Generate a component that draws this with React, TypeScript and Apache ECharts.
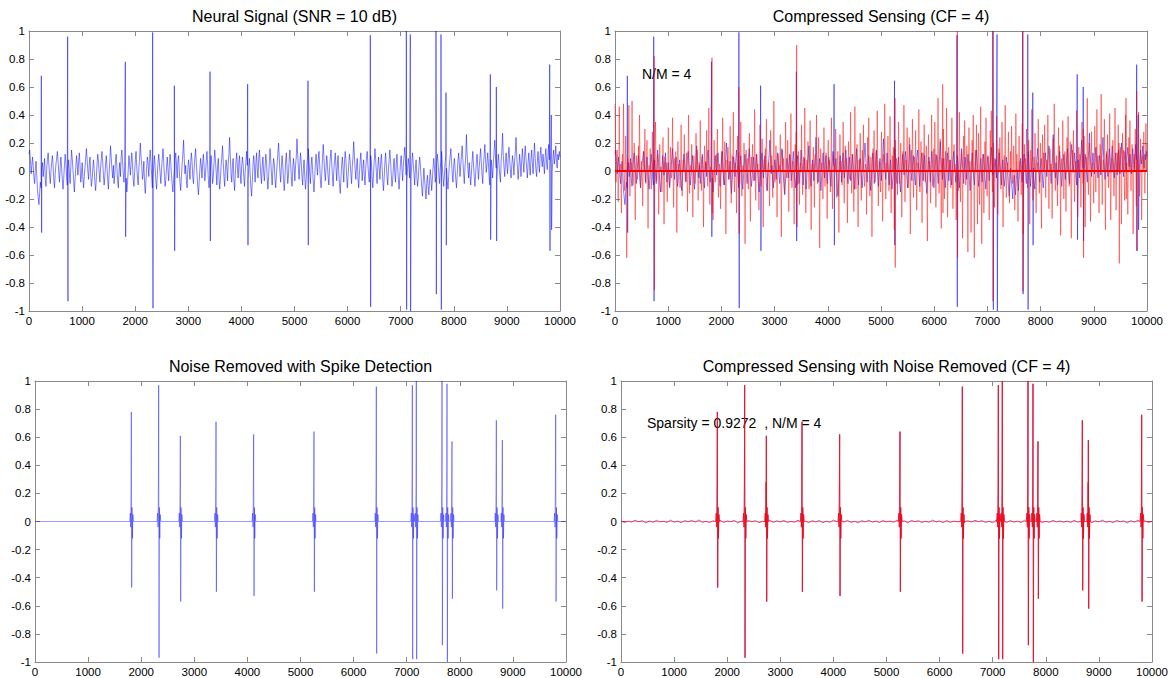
import React, { useEffect, useRef } from 'react';
import * as echarts from 'echarts';

const FONT = '"Liberation Sans", Arial, Helvetica, sans-serif';
const X_MAX = 10000;
const X_INTERVAL = 1000;
const Y_MIN = -1;
const Y_MAX = 1;
const Y_INTERVAL = 0.2;

const panelTitles = [
  'Neural Signal (SNR = 10 dB)',
  'Compressed Sensing (CF = 4)',
  'Noise Removed with Spike Detection',
  'Compressed Sensing with Noise Removed (CF = 4)',
];
const noteTopRight = 'N/M = 4';
const noteBottomRight = 'Sparsity = 0.9272  , N/M = 4';

// Background noise of the recorded signal (hundredths), evenly spread over 0..10000
const blueNoise = [
  12, 15, 8, -2, 4, 10, 3, -5, -9, 2, 7, -3, -14, -19, -24, -16, -8, -12, 1, 6, -4, 3, 9, -6, -11,
  2, 8, 13, 5, -3, -9, 0, 6, 11, 4, -7, -12, -2, 5, 9, 14, 7, -1, -8, 3, 10, 2, -6, -13, -5,
  4, 12, 6, -4, -10, 1, 8, -2, -9, 3, 15, 9, 1, -7, -15, -6, 2, 11, 5, -3, 7, 13, 4, -8, -3,
  6, -5, -12, -4, 3, 9, 16, 8, 0, -6, 4, 10, -2, -11, -7, 2, 8, 1, -9, -14, -5, 5, 12, 7, -1,
  -8, 2, 9, 14, 6, -3, -10, -4, 5, 11, 3, -6, -13, -2, 7, 18, 10, 1, -5, 4, -9, -3, 8, 12, 2,
  -7, -12, 0, 6, -4, 10, 15, 7, -2, -8, 3, 9, -5, -15, -8, 1, 11, 4, -3, 6, 13, 5, -6, -11, -1,
  8, 14, 3, -5, -10, 2, 9, 20, 11, 4, -6, -2, 7, -9, -16, -7, 3, 10, 5, -4, 8, 15, 6, -3, -12,
  -5, 4, 11, 2, -8, -13, -3, 6, 12, 5, -2, -9, 1, 9, 16, 7, -4, -11, -6, 3, 10, 1, -7, 4, 12,
  6, -3, -10, -15, -6, 2, 8, 13, 4, -5, 7, 11, 0, -8, -14, -4, 5, 12, 22, 9, -2, 4, -7, -12, 1,
  8, 3, -6, 5, 13, 7, -4, -9, 2, 10, 16, 6, -3, -11, -17, -8, 1, 9, 4, -5, 6, 12, 3, -7, -2,
  7, 14, 5, -6, -12, -3, 4, 11, 2, -9, -4, 6, 15, 8, -1, -10, 3, 9, -5, -13, -6, 4, 10, 18, 6,
  -4, -11, 1, 8, 3, -7, 5, 12, 24, 10, -2, -8, 4, 9, -6, -14, -3, 7, 13, 2, -5, 6, 11, -2, -9,
  3, 10, 5, -4, -11, 0, 7, 14, 4, -6, 2, 9, -3, -12, -18, -7, 5, 11, 3, -8, 6, 13, 1, -5, 8,
  15, 6, -3, -9, 4, 10, -1, -7, 3, 12, 7, -5, -13, -4, 6, 16, 8, -2, -10, 1, 9, 5, -6, -12, -3,
  5, 12, 20, 9, -1, -8, 3, 11, 4, -6, -14, -5, 7, 13, 2, -9, -3, 8, 15, 6, -4, -11, 0, 9, 3,
  -7, 4, 10, 23, 12, 2, -6, 5, 13, 6, -3, -10, 1, 8, -4, -13, -6, 3, 11, 16, 7, -2, -9, 4, 10,
  1, -8, -15, -5, 6, 12, 4, -3, 8, 14, 5, -6, -12, -2, 9, 19, 10, -1, -7, 3, 11, 4, -5, -10, 2,
  9, 15, 6, -4, -11, 1, 7, 13, 3, -7, 5, 11, -2, -9, -16, -6, 4, 10, 2, -8, 6, 14, 8, -3, -12,
  -4, 5, 12, 7, -2, -9, 3, 10, 21, 11, 1, -6, 4, 9, -5, -12, -3, 6, 13, 4, -7, 2, 8, -4, -10,
  2, 9, 14, 5, -3, -8, 4, 11, 6, -5, -12, -2, 7, 16, 8, -1, -9, 3, 10, 2, -6, 5, 12, 4, -7,
  -14, -5, 6, 13, 4, -4, -10, 1, 8, 15, 7, -3, -11, -6, 3, 9, -2, -8, 5, 12, 3, -6, -13, -4, 6,
  11, 2, -7, 4, 10, 17, 8, -3, -9, 2, 9, 3, -5, -12, -4, 6, 13, 5, -2, -10, 1, 8, -3, -11, -6,
  3, 10, 5, -4, -12, -18, -8, 2, -6, -13, -20, -9, -3, -11, -17, -7, 1, -5, -14, -6, 3, 9, 2, -8, -4,
  5, 12, 6, -2, -9, 1, 8, 14, 4, -5, -11, -3, 6, 11, 2, -7, -13, -4, 5, 10, 16, 7, -2, -8, 3,
  9, 2, -6, -12, -3, 7, 13, 5, -4, 4, 11, 18, 8, -1, -9, 3, 10, 26, 12, 2, -5, 6, -3, -10, -2,
  7, 14, 5, -4, -11, -2, 6, 12, 3, -6, 2, 9, 16, 7, -3, -9, 4, 11, 19, 8, -1, 5, 13, 6, -4,
  -10, 1, 8, 3, -5, 6, 14, 22, 10, 2, -6, 4, 12, 5, -3, -8, 7, 15, 27, 11, 3, -4, 6, 13, 5,
  -2, 9, 17, 8, 1, -5, 4, 11, 6, -3, 7, 14, 24, 10, 2, -6, 3, 12, 5, -4, 8, 16, 7, -1, 10,
  18, 9, 2, -5, 6, 13, 4, -3, 8, 15, 6, -2, 10, 20, 9, 1, -4, 7, 14, 5, -1, 11, 17, 8, 3,
  12, 6, -2, 9, 16, 7, 1, 11, 19, 8, 3, 13, 6, -1, 9, 15, 5, 10, 18, 7, 2, 12, 8, 14, 10,
];

// Spikes of the recorded signal: position, peak, trough
const spikePos = [232, 728, 1814, 2329, 2737, 3409, 4118, 5254, 6428, 7106, 7181, 7665, 7759, 7853, 8688, 8801, 9806, 9836];
const spikeUp = [0.68, 0.96, 0.78, 0.99, 0.61, 0.71, 0.62, 0.645, 0.97, 1.0, 0.975, 1.0, 0.975, 0.56, 0.69, 0.6, 0.76, 0.4];
const spikeDown = [-0.44, -0.93, -0.47, -0.98, -0.57, -0.5, -0.53, -0.53, -0.97, -0.99, -1.0, -0.88, -0.99, -0.53, -0.49, -0.5, -0.57, -0.42];

// Compressed-sensing reconstruction (hundredths): sparse stems, evenly spread over 0..10000
const redNoise = [
  48, -8, 15, -22, 46, 5, -30, 12, 48, -14, 25, -62, 9, 47, -18, 6, 50, -10, 20, -35, 11, -6, 18, 40, -12,
  7, -25, 14, 30, -9, 22, -41, 4, 16, -13, 28, 8, -20, 35, -7, 12, -31, 19, 3, -15, 24, -38, 10, 6, -22,
  31, -11, 17, -5, 38, -26, 9, 14, -44, 21, 5, -12, 33, -18, 8, 26, -7, 13, -29, 40, -16, 4, 19, -33, 11,
  -9, 27, 15, -21, 6, 36, -14, 10, -40, 18, 7, 29, -11, 45, -24, 3, 16, -35, 22, -8, 12, 30, -19, 5, -27,
  14, 38, -10, 21, -45, 8, 17, -6, 32, -23, 11, 42, -15, 6, -30, 25, 13, -9, 35, -18, 4, 20, -52, 15, 9,
  -13, 27, -36, 10, 19, -7, 44, -21, 12, 5, -28, 33, -11, 23, -40, 8, 16, 37, -14, 6, -25, 29, 11, -19, 50,
  -8, 18, -33, 12, 4, 26, -47, 15, 9, -16, 35, -5, 22, -29, 11, 41, -12, 7, -38, 19, 28, -10, 14, -24, 6,
  33, -17, 10, 45, -30, 8, 21, -13, 36, -42, 5, 17, -26, 12, 40, -9, 24, -55, 16, 6, -20, 31, -11, 13, -34,
  22, 8, -15, 38, -27, 11, 4, 30, -19, 14, -44, 26, 7, -10, 35, -23, 18, 9, -37, 21, -6, 42, -16, 12, -29,
  46, -13, 19, -40, 8, 27, -21, 15, 33, -11, 5, -31, 24, 38, -18, 10, -47, 16, 29, -8, 14, 43, -25, 7, -15,
  28, -36, 12, 48, -20, 6, 25, -14, 39, -30, 11, 17, -42, 22, 9, -17, 35, -9, 20, -33, 14, 47, -22, 8, 31,
  -12, 24, -45, 15, 37, -19, 10, 29, -28, 6, 44, -15, 21, -37, 13, 33, -8, 18, -50, 26, 7, -23, 40, -11, 16,
  35, -26, 11, 52, -16, 23, -41, 9, 30, -20, 14, 45, -33, 17, 8, -12, 38, -27, 19, 5, -35, 28, -14, 42, -22,
  13, -48, 25, 36, -10, 18, -58, 31, 7, -44, 22, 40, -62, 15, 33, -38, 27, -24, 46, -52, 12, -30, 21, 38, -18,
  10, -35, 29, 43, -15, 20, -26, 8, 39, -31, 16, 24, -13, 35, -40, 11, 47, -19, 6, 28, -23, 14, 32, -9, 18,
  -28, 41, 12, -36, 25, 7, -17, 34, -45, 19, 9, 30, -12, 22, -38, 15, 44, -21, 10, 27, -30, 6, 37, -16, 20,
  -41, 26, 13, 33, -19, 8, 40, -27, 16, 5, -34, 23, 48, -14, 11, -25, 31, 18, -46, 9, 36, -20, 14, -29, 24,
  39, -11, 21, -48, 15, 29, -22, 7, 43, -33, 17, 12, -26, 35, -9, 25, -40, 10, 52, -17, 20, -36, 28, 6, -23,
  32, -15, 44, 11, -30, 19, 55, -24, 8, 37, -42, 14, 26, -12, 41, -35, 9, 22, -18, 45, -28, 13, 33, -10, 17,
  -38, 27, 15, -21, 40, 6, -31, 24, 36, -14, 19, -45, 12, 30, -25, 8, 42, -18, 23, -35, 11, 28, -16, 34, 20,
];
const redSpikePos = [737, 1823, 2329, 3415, 5263, 6160, 6435, 7100, 7663, 8803, 9474, 9605, 9806];
const redSpikeUp = [0.82, 0.81, 0.6, 0.9, 0.52, 0.62, 1.0, 1.0, 1.0, 0.3, 0.2, 0.52, 0.57];
const redSpikeDown = [-0.85, -0.3, -0.45, -0.4, -0.69, -0.3, -0.62, -0.93, -0.86, -0.62, -0.66, -0.2, -0.57];
// samples of the reconstruction that sit at zero, from start to end
const redZeroRun = [0, 10000];

// Detected spikes after noise removal
const cleanSpikePos = [1814, 2329, 2737, 3409, 4118, 5254, 6428, 7106, 7181, 7665, 7759, 7853, 8688, 8801, 9806];
const cleanSpikeUp = [0.78, 0.97, 0.61, 0.71, 0.62, 0.64, 0.96, 0.97, 1.0, 1.0, 0.98, 0.57, 0.72, 0.58, 0.76];
const cleanSpikeDown = [-0.47, -0.97, -0.57, -0.5, -0.53, -0.5, -0.94, -0.98, -0.98, -0.88, -1.0, -0.55, -0.49, -0.62, -0.57];
// small waveform around each detected spike: offset from spike, value
const wiggleOffsets = [-30, -20, -12, -5, 14, 21, 30, 40];
const wiggleValues = [0, 0.06, -0.04, 0.28, 0.1, -0.12, 0.05, 0];

// Residual noise of the denoised CS reconstruction (thousandths)
const cleanRedNoise = [
  5, -8, 3, -4, 9, -2, 6, -10, 4, -6, 8, -3, 2, -7, 10, -5, 3, -9, 6, -1, 7, -4, 11, -6, 2,
  -8, 5, -3, 9, -7, 4, -2, 8, -10, 3, -5, 7, -1, 6, -9, 2, -4, 10, -6, 5, -3, 8, -7, 1, -5,
  9, -2, 4, -8, 6, -3, 7, -9, 3, -6, 10, -1, 5, -4, 8, -7, 2, -10, 6, -3, 9, -5, 4, -8, 7,
  -2, 3, -6, 11, -4, 5, -9, 8, -1, 6, -7, 2, -5, 10, -3, 4, -8, 7, -6, 3, -2, 9, -10, 5, -4,
  8, -1, 6, -7, 2, -9, 11, -3, 4, -6, 7, -5, 3, -8, 9, -2, 5, -4, 10, -7, 1, -6, 8, -3, 4, -5,
  3, -7, 9, -4, 6, -2, 8, -9, 5, -3, 10, -6, 2, -8, 7, -1, 4, -10, 6, -5, 9, -3, 5, -7, 2,
];

type Pt = [number, number];

function buildNoisy(noise: number[], scale: number, pos: number[], up: number[], down: number[]): Pt[] {
  const step = X_MAX / (noise.length - 1);
  const pts: Pt[] = noise.map((v, i) => [i * step, v * scale]);
  pos.forEach((p, k) => {
    pts.push([p, up[k]]);
    pts.push([p + 6, down[k]]);
  });
  pts.sort((a, b) => a[0] - b[0]);
  return pts;
}

function buildSparse(noise: number[], scale: number, pos: number[], up: number[], down: number[]): Pt[] {
  const step = X_MAX / (noise.length - 1);
  const pts: Pt[] = [];
  noise.forEach((v, i) => {
    pts.push([i * step, v * scale]);
    if (i < noise.length - 1) pts.push([i * step + step / 2, 0]);
  });
  pos.forEach((p, k) => {
    pts.push([p - 3, 0]);
    pts.push([p, up[k]]);
    pts.push([p + 5, down[k]]);
    pts.push([p + 9, 0]);
  });
  pts.sort((a, b) => a[0] - b[0]);
  return pts;
}

function buildClean(noise: number[] | null, scale: number, pos: number[], up: number[], down: number[]): Pt[] {
  const pts: Pt[] = [];
  if (noise) {
    const step = X_MAX / (noise.length - 1);
    noise.forEach((v, i) => pts.push([i * step, v * scale]));
  } else {
    pts.push([0, 0]);
    pts.push([X_MAX, 0]);
  }
  pos.forEach((p, k) => {
    wiggleOffsets.forEach((o, j) => pts.push([p + o, wiggleValues[j]]));
    pts.push([p, up[k]]);
    pts.push([p + 7, down[k]]);
  });
  pts.sort((a, b) => a[0] - b[0]);
  return pts;
}

const grids = [
  { left: 29, top: 31, width: 531, height: 280 },
  { left: 615, top: 31, width: 532, height: 280 },
  { left: 35, top: 381, width: 531, height: 281 },
  { left: 621, top: 381, width: 531, height: 281 },
];

const AXIS_COLOR = '#8a8a8a';

function buildAxes() {
  const xAxis: any[] = [];
  const yAxis: any[] = [];
  grids.forEach((_, k) => {
    const base = {
      gridIndex: k,
      type: 'value',
      splitLine: { show: false },
      axisLine: { show: true, onZero: false, lineStyle: { color: AXIS_COLOR, width: 1 } },
      axisTick: { show: true, inside: true, length: 5, lineStyle: { color: AXIS_COLOR, width: 1 } },
    };
    const label = { color: '#000', fontSize: 11.5, fontFamily: FONT, margin: 4, showMinLabel: true, showMaxLabel: true };
    xAxis.push({
      ...base, position: 'bottom', min: 0, max: X_MAX, interval: X_INTERVAL,
      axisLabel: { ...label, formatter: (v: number) => String(Math.round(v)) },
    });
    xAxis.push({ ...base, position: 'top', min: 0, max: X_MAX, interval: X_INTERVAL, axisLabel: { show: false } });
    yAxis.push({
      ...base, position: 'left', min: Y_MIN, max: Y_MAX, interval: Y_INTERVAL,
      axisLabel: { ...label, formatter: (v: number) => String(Math.round(v * 10) / 10) },
    });
    yAxis.push({ ...base, position: 'right', min: Y_MIN, max: Y_MAX, interval: Y_INTERVAL, axisLabel: { show: false } });
  });
  return { xAxis, yAxis };
}

function lineSeries(k: number, data: Pt[], color: string, width: number, opacity = 1) {
  return {
    type: 'line',
    xAxisIndex: k * 2,
    yAxisIndex: k * 2,
    data,
    symbol: 'none',
    showSymbol: false,
    silent: true,
    clip: true,
    lineStyle: { color, width, opacity },
  };
}

export default function App() {
  const ref = useRef<HTMLDivElement>(null);
  useEffect(() => {
    if (!ref.current) return;
    const chart = echarts.init(ref.current, undefined, { renderer: 'svg' });
    const { xAxis, yAxis } = buildAxes();
    const noisyBlue = buildNoisy(blueNoise, 0.01, spikePos, spikeUp, spikeDown);
    const csRed = buildSparse(redNoise, 0.01, redSpikePos, redSpikeUp, redSpikeDown);
    const csZero: Pt[] = redZeroRun.map((x) => [x, 0]);
    const cleanBlue = buildClean(null, 1, cleanSpikePos, cleanSpikeUp, cleanSpikeDown);
    const cleanRed = buildClean(cleanRedNoise, 0.001, cleanSpikePos, cleanSpikeUp, cleanSpikeDown);
    const BLUE = '#0000ff';
    const RED = '#ff0000';
    const titleCenters = grids.map((g) => [g.left + g.width / 2, g.top - 15]);
    chart.setOption({
      animation: false,
      grid: grids.map((g) => ({ ...g, containLabel: false })),
      xAxis,
      yAxis,
      series: [
        lineSeries(0, noisyBlue, BLUE, 0.5),
        lineSeries(1, noisyBlue, BLUE, 0.5),
        lineSeries(1, csRed, RED, 0.5, 0.9),
        lineSeries(1, csZero, RED, 2),
        lineSeries(2, cleanBlue, BLUE, 0.5, 0.8),
        lineSeries(3, cleanBlue, BLUE, 0.5, 0.6),
        lineSeries(3, cleanRed, RED, 0.7),
      ],
      graphic: [
        ...panelTitles.map((t, i) => ({
          type: 'text',
          x: titleCenters[i][0],
          y: titleCenters[i][1],
          style: { text: t, font: `16px ${FONT}`, fill: '#000', textAlign: 'center', textVerticalAlign: 'middle' },
        })),
        {
          type: 'text', x: 642, y: 74,
          style: { text: noteTopRight, font: `14px ${FONT}`, fill: '#000', textAlign: 'left', textVerticalAlign: 'middle' },
        },
        {
          type: 'text', x: 647, y: 423,
          style: { text: noteBottomRight, font: `14px ${FONT}`, fill: '#000', textAlign: 'left', textVerticalAlign: 'middle' },
        },
      ],
    });
    return () => chart.dispose();
  }, []);
  return <div ref={ref} style={{ position: 'absolute', left: 0, top: 0, width: 1173, height: 678, background: '#fff' }} />;
}
